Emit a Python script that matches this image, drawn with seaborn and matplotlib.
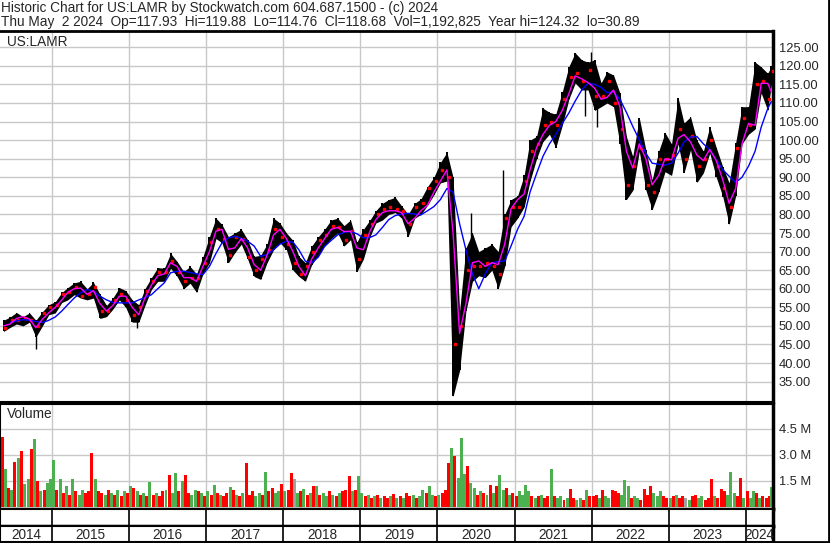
import numpy as np
import pandas as pd
import matplotlib
matplotlib.use('Agg')
import matplotlib.pyplot as plt
import seaborn as sns

# monthly price readings, May 2014 .. May 2024
months = pd.date_range('2014-05-01', '2024-05-01', freq='MS')

price_hi = [51.5, 52.4, 53.6, 52.5, 53.5, 51.5, 53.8, 55.7,
            56.5, 59.0, 60.3, 61.6, 62.0, 60.0, 61.7, 58.5, 55.5, 57.5, 60.3, 59.5,
            57.0, 55.7, 60.0, 63.0, 65.7, 65.5, 69.5, 67.3, 64.6, 66.0, 64.0, 68.6,
            74.0, 79.0, 77.3, 74.0, 75.0, 76.0, 73.2, 68.7, 69.0, 72.0, 79.0, 77.7,
            75.0, 73.0, 68.7, 67.0, 71.5, 74.0, 76.0, 78.5, 79.0, 77.0, 78.5, 72.5,
            76.0, 78.5, 81.0, 83.0, 84.0, 84.6, 82.3, 80.0, 83.0, 84.2, 87.5, 90.0,
            94.0, 96.7, 90.0, 54.0, 71.0, 75.0, 70.0, 71.0, 72.0, 70.0, 80.0, 84.0,
            85.0, 90.5, 100.0, 101.0, 108.6, 107.5, 107.0, 113.0, 119.8, 123.5, 121.6, 121.0,
            121.6, 115.4, 118.4, 117.5, 112.7, 101.0, 95.6, 106.0, 97.4, 89.3, 97.0, 102.0,
            99.0, 111.4, 104.6, 106.3, 100.0, 97.0, 103.6, 98.0, 92.8, 88.5, 99.3, 109.0,
            109.0, 121.0, 119.7, 118.0, 119.88]
price_lo = [48.5, 49.6, 50.5, 50.0, 51.0, 47.0, 50.0, 53.0,
            53.5, 56.3, 57.0, 58.4, 57.5, 57.0, 57.5, 52.0, 52.5, 54.5, 57.0, 55.0,
            51.0, 51.0, 55.5, 59.8, 62.0, 62.0, 65.5, 63.3, 60.0, 61.5, 59.0, 64.0,
            67.0, 73.5, 72.4, 67.0, 69.7, 72.0, 68.0, 63.3, 62.5, 67.0, 70.5, 72.4,
            70.5, 65.0, 63.3, 62.0, 66.5, 69.0, 71.5, 73.5, 75.0, 71.5, 73.2, 64.6,
            68.0, 74.0, 77.7, 78.5, 80.0, 80.5, 79.0, 74.0, 79.0, 80.0, 82.5, 85.3,
            88.5, 89.0, 31.0, 38.0, 54.0, 62.0, 63.5, 63.0, 65.0, 60.0, 66.0, 76.7,
            79.0, 82.0, 89.0, 95.0, 99.6, 101.6, 98.0, 104.0, 111.0, 115.4, 113.5, 113.5,
            108.0, 109.0, 110.0, 109.0, 99.0, 84.0, 86.5, 97.0, 86.6, 81.3, 86.0, 91.5,
            90.5, 99.0, 91.2, 97.4, 88.6, 91.2, 96.5, 90.0, 84.8, 77.3, 85.0, 99.0,
            101.6, 103.0, 112.7, 108.0, 114.76]
price_close = [49.5, 51.5, 51.5, 52.0, 51.5, 50.0, 53.5, 55.0,
               55.5, 58.5, 59.0, 60.5, 58.0, 58.5, 60.5, 54.0, 54.0, 57.0, 58.5, 57.0,
               53.0, 55.0, 59.5, 62.0, 64.5, 64.5, 67.5, 64.5, 62.0, 63.0, 63.0, 67.0,
               72.5, 76.0, 73.5, 69.0, 74.0, 73.5, 68.5, 65.0, 68.0, 70.5, 76.0, 74.0,
               72.0, 67.0, 64.0, 66.0, 70.0, 73.0, 74.5, 77.0, 76.5, 73.0, 75.5, 68.0,
               74.5, 77.5, 80.0, 81.5, 82.0, 81.5, 81.0, 77.5, 82.0, 83.0, 87.0, 89.0,
               92.0, 90.0, 45.0, 50.0, 65.0, 66.0, 66.0, 67.0, 66.0, 64.0, 79.0, 82.0,
               82.0, 89.0, 97.0, 99.0, 104.0, 105.0, 104.0, 111.0, 117.0, 118.0, 116.0, 119.0,
               112.0, 112.0, 116.0, 110.0, 103.0, 88.0, 93.0, 98.0, 88.0, 86.0, 95.0, 95.0,
               96.0, 103.0, 95.0, 101.0, 93.0, 95.0, 100.0, 93.0, 87.0, 82.0, 98.0, 106.0,
               104.0, 115.0, 116.0, 111.0, 118.68]
ma_fast = [50.0, 50.5, 52.0, 52.5, 51.8, 49.5, 51.8, 53.5,
           55.0, 57.0, 59.0, 60.0, 60.2, 58.5, 59.5, 56.0, 54.0, 55.5, 58.0, 58.0,
           55.0, 53.0, 57.5, 61.0, 63.5, 64.0, 67.0, 66.0, 63.0, 63.0, 62.0, 66.0,
           70.0, 75.5, 76.0, 70.6, 71.0, 73.5, 71.0, 66.5, 65.0, 69.0, 74.5, 76.0,
           73.5, 70.0, 66.0, 63.5, 68.0, 71.0, 73.5, 76.0, 76.5, 75.4, 75.5, 71.0,
           70.5, 75.5, 78.6, 80.5, 81.0, 81.0, 80.5, 77.5, 79.0, 81.0, 82.5, 86.0,
           89.0, 92.0, 75.0, 48.0, 56.0, 67.0, 67.5, 66.0, 67.0, 66.5, 72.0, 81.5,
           84.0, 85.5, 92.0, 98.0, 101.5, 104.0, 105.0, 108.0, 112.5, 117.3, 116.5, 115.5,
           114.0, 111.0, 111.5, 113.5, 109.0, 97.0, 92.5, 99.0, 95.0, 88.0, 90.5, 95.0,
           94.7, 100.5, 101.5, 99.5, 96.0, 94.5, 97.5, 94.5, 89.3, 83.0, 87.0, 99.0,
           104.5, 104.0, 115.3, 115.3, 113.0]
ma_slow = [np.nan, 50.9, 51.3, 51.7, 51.5, 51.2, 50.9, 51.5,
           52.4, 54.0, 55.7, 57.5, 58.9, 59.8, 59.3, 58.0, 57.0, 56.3, 56.2, 56.2,
           56.2, 57.0, 57.6, 58.4, 60.0, 61.6, 64.3, 64.7, 64.7, 64.4, 64.0, 63.8,
           66.0, 69.5, 72.3, 73.7, 74.1, 73.6, 72.8, 71.5, 68.7, 69.2, 70.5, 72.0,
           72.8, 72.5, 70.5, 67.4, 67.0, 68.5, 71.4, 73.0, 74.5, 75.2, 75.4, 74.8,
           73.7, 73.8, 74.5, 76.5, 78.6, 79.7, 80.1, 80.3, 80.1, 79.9, 81.0, 82.1,
           84.0, 87.0, 86.0, 77.5, 70.5, 64.0, 60.0, 64.0, 67.0, 67.3, 67.5, 71.5,
           76.0, 79.5, 86.0, 91.0, 95.6, 99.0, 101.5, 104.5, 107.3, 110.5, 113.5, 115.3,
           115.0, 114.2, 112.8, 113.0, 111.0, 107.5, 103.7, 100.1, 96.5, 93.8, 93.5, 93.3,
           93.8, 96.5, 99.5, 100.8, 101.0, 99.0, 97.5, 94.7, 92.0, 90.3, 88.6, 90.0,
           93.0, 97.0, 103.5, 108.5, 110.4]

# thin single-day wicks
spike_dates = ['2014-10-15', '2016-02-08', '2020-06-08', '2020-11-09',
               '2021-12-01', '2021-12-30', '2022-01-25']
spike_lo = [43.8, 49.5, 68.0, 72.0, 106.4, 118.0, 103.5]
spike_hi = [48.0, 53.0, 80.5, 92.0, 116.0, 123.8, 110.0]

# half-monthly volume (millions), r=down g=up x=unchanged
volume = [4.0, 2.2, 1.1, 1.0, 2.6, 2.8, 3.2, 1.3, 1.6, 3.3, 3.9, 1.5, 0.9, 1.0, 1.4, 1.6,
          2.7, 1.0, 1.6, 0.8, 1.2, 0.7, 1.6, 0.9, 0.7, 1.0, 0.8, 0.9, 3.1, 1.6, 0.9, 0.8, 0.7, 1.0, 0.8, 0.7, 1.0, 0.6, 0.9, 0.8,
          1.2, 1.1, 0.9, 0.7, 0.8, 0.6, 1.45, 0.7, 0.8, 0.6, 0.9, 1.0, 1.85, 0.8, 1.95, 0.9, 1.5, 1.85, 0.8, 0.7, 1.0, 0.9, 0.8, 0.6,
          0.9, 0.7, 1.25, 0.8, 0.7, 0.6, 0.8, 1.15, 1.0, 0.7, 0.6, 0.8, 2.5, 0.7, 0.9, 0.6, 0.8, 0.7, 2.0, 0.9, 1.1, 0.8, 0.9, 1.3,
          0.9, 1.0, 1.95, 1.6, 0.8, 0.9, 1.05, 0.7, 0.8, 1.2, 1.2, 0.7, 0.8, 0.6, 0.9, 0.7, 0.6, 0.8, 0.9, 1.0, 1.8, 0.9, 1.0, 1.75,
          0.8, 0.6, 0.7, 0.5, 0.6, 0.7, 0.5, 0.6, 0.5, 0.6, 0.75, 0.5, 0.6, 0.5, 0.8, 0.6, 0.7, 0.5, 0.6, 1.0, 0.8, 1.2, 0.7, 0.6,
          0.7, 0.8, 1.0, 2.5, 3.4, 2.95, 1.65, 3.95, 1.9, 2.37, 1.4, 1.1, 0.7, 0.9, 0.8, 0.7, 1.27, 0.8, 1.2, 1.83, 1.0, 1.1, 0.7, 0.8,
          0.6, 0.9, 0.7, 1.25, 0.9, 0.6, 0.5, 0.6, 0.7, 0.5, 0.6, 2.18, 0.6, 0.5, 0.6, 0.4, 0.5, 1.05, 0.5, 0.4, 0.5, 0.4, 1.0, 0.6,
          0.6, 0.7, 0.5, 1.0, 0.6, 0.5, 0.95, 0.9, 0.8, 0.7, 1.56, 1.2, 0.5, 0.6, 0.5, 0.4, 1.05, 0.7, 1.2, 0.8, 0.6, 0.9, 0.6, 0.5,
          0.5, 0.6, 0.7, 0.5, 0.6, 0.5, 0.4, 0.6, 0.7, 0.5, 0.6, 0.4, 0.5, 1.6, 0.6, 0.5, 1.05, 0.9, 0.7, 1.98, 0.8, 0.6, 1.67, 0.5,
          0.9, 0.5, 0.9, 0.8, 0.5, 0.6, 0.5, 0.6, 1.17]
vol_dir = ("rgrgrgrggrgrgrgg"
           "grgrgrgrggrrrgrrgrgrgrgr"
           "grgrgrgrgrrgrggrgrrggrgr"
           "grgrgrrgrgrgrrrggrgrrggr"
           "grrxgrgrgrgrggrgrgrrrgrg"
           "grgrgrgrrgrgrgrrgrggrggr"
           "grrrgrgggrggrgrgrgrggrgr"
           "rggggrgrgrrgrggrgrrggrgr"
           "rrgrggrrrgggrggrrrrgggrr"
           "grgrrxgrrggrrrgrrrgggrrg"
           "rggrgrrrg")

years = list(range(2014, 2025))
price_ticks = list(range(35, 126, 5))
vol_ticks = [1.5, 3.0, 4.5]

# ---- build frames
df = pd.DataFrame({'date': months + pd.Timedelta(days=14), 'hi': price_hi, 'lo': price_lo,
                   'close': price_close, 'fast': ma_fast, 'slow': ma_slow})
df.loc[df.index[-1], 'date'] = pd.Timestamp('2024-05-02')
half_dates = []
for m in months[:-1]:
    half_dates += [m + pd.Timedelta(days=7), m + pd.Timedelta(days=22)]
half_dates.append(pd.Timestamp('2024-05-01'))
vol = pd.DataFrame({'date': half_dates, 'vol': volume, 'dir': list(vol_dir)})

sns.set_style('white')
plt.rcParams['font.family'] = ['Liberation Sans', 'DejaVu Sans']
plt.rcParams['font.size'] = 9

W, H = 830, 543
fig = plt.figure(figsize=(W / 100, H / 100), dpi=100)

def ax_at(x0, y0, x1, y1, **kw):
    return fig.add_axes([x0 / W, 1 - y1 / H, (x1 - x0) / W, (y1 - y0) / H], **kw)

xmin, xmax = pd.Timestamp('2014-04-28'), pd.Timestamp('2024-05-10')
year_starts = [pd.Timestamp(f'{y}-01-01') for y in years[1:]]
grid_c = '#c8c8c8'
hdr_fs = 9.8

# outer frame (right and bottom edges)
frame = ax_at(0, 0, 829, 542)
frame.set_xticks([]); frame.set_yticks([])
for s in frame.spines.values():
    s.set_linewidth(2); s.set_color('black')
frame.spines['top'].set_visible(False)
frame.spines['left'].set_visible(False)

fig.text(1 / W, 1 - 8 / H, 'Historic Chart for US:LAMR by Stockwatch.com 604.687.1500 - (c) 2024',
         va='center', ha='left', fontsize=hdr_fs)
fig.text(1 / W, 1 - 22 / H,
         'Thu May  2 2024  Op=117.93  Hi=119.88  Lo=114.76  Cl=118.68  Vol=1,192,825  Year hi=124.32  lo=30.89',
         va='center', ha='left', fontsize=hdr_fs)

# price panel
ax = ax_at(0, 31, 773, 401.5)
ax.fill_between(df['date'], df['lo'], df['hi'], color='black', linewidth=0, zorder=2)
ax.bar(df['date'], df['hi'] - df['lo'], bottom=df['lo'], width=9, color='black', linewidth=0, zorder=2)
ax.vlines(pd.to_datetime(spike_dates), spike_lo, spike_hi, color='black', lw=1, zorder=2)
ax.plot(df['date'] + pd.Timedelta(days=8), df['close'], 's', color='red', ms=1.8, zorder=3)
sns.lineplot(data=df, x='date', y='slow', color='#0000ff', lw=1, ax=ax, zorder=4)
sns.lineplot(data=df, x='date', y='fast', color='#ff00ff', lw=1, ax=ax, zorder=5)
ax.set_xlim(xmin, xmax)
ax.set_ylim(29.65, 129.38)
ax.set_yticks(price_ticks)
ax.set_yticklabels([f'{v:.2f}' for v in price_ticks])
ax.set_xticks(year_starts)
ax.yaxis.tick_right()
ax.tick_params(axis='y', length=0, pad=4, labelsize=9.3)
ax.tick_params(axis='x', length=0, labelbottom=False)
ax.grid(True, color=grid_c, lw=1, zorder=0)
ax.set_axisbelow(True)
ax.set_xlabel(''); ax.set_ylabel('')
for s in ax.spines.values():
    s.set_color('black'); s.set_linewidth(1.5)
ax.spines['left'].set_visible(False)
ax.spines['top'].set_linewidth(2)
ax.spines['right'].set_linewidth(2.5)
ax.text(7 / 773, 1 - 11 / 370.5, 'US:LAMR', transform=ax.transAxes, va='center', fontsize=hdr_fs)

# volume panel
vax = ax_at(0, 403.5, 773, 509)
cmap = {'r': '#ff0000', 'g': '#4caf50', 'x': '#a0a0a0'}
vax.bar(vol['date'], vol['vol'], width=14, color=[cmap[c] for c in vol['dir']], linewidth=0, zorder=2)
vax.set_xlim(xmin, xmax)
vax.set_ylim(-0.12, 5.94)
vax.set_yticks(vol_ticks)
vax.set_yticklabels([f'{v:.1f} M' for v in vol_ticks])
vax.set_xticks(year_starts)
vax.yaxis.tick_right()
vax.tick_params(axis='y', length=0, pad=4, labelsize=9.3)
vax.tick_params(axis='x', length=0, labelbottom=False)
vax.grid(True, color=grid_c, lw=1, zorder=0)
vax.set_axisbelow(True)
for s in vax.spines.values():
    s.set_color('black'); s.set_linewidth(1.5)
vax.spines['right'].set_linewidth(2.5)
vax.spines['bottom'].set_linewidth(2.5)
vax.text(7 / 773, 1 - 10 / 105.5, 'Volume', transform=vax.transAxes, va='center', fontsize=hdr_fs)

# tick strip and year labels
tax = ax_at(0, 509, 773, 526)
tax.set_xlim(xmin, xmax); tax.set_ylim(0, 1)
tax.vlines(year_starts, 0, 1, color='black', lw=1.2)
lax = ax_at(0, 526, 773, 542)
lax.set_xlim(xmin, xmax); lax.set_ylim(0, 1)
lax.vlines(year_starts, 0, 1, color='black', lw=1.2)
bounds = [xmin] + year_starts + [xmax]
for i, y in enumerate(years):
    mid = bounds[i] + (bounds[i + 1] - bounds[i]) / 2
    lax.text(mid, 0.45, str(y), ha='center', va='center', fontsize=hdr_fs)
for a in (tax, lax):
    a.set_xticks([]); a.set_yticks([])
    for s in a.spines.values():
        s.set_color('black'); s.set_linewidth(1.5)
    a.spines['right'].set_linewidth(2.5)
tax.spines['bottom'].set_linewidth(2.5)

fig.savefig('out.png', dpi=100)
